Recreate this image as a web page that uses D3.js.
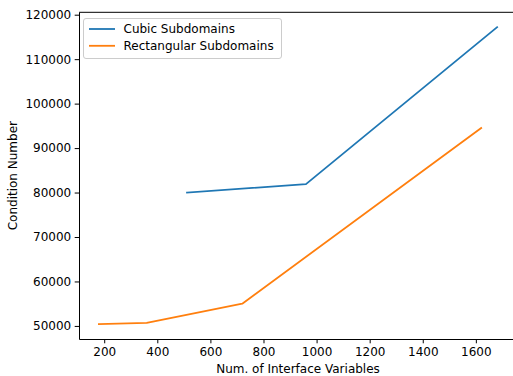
<!DOCTYPE html>
<html>
<head>
<meta charset="utf-8">
<script src="https://cdn.jsdelivr.net/npm/d3@7"></script>
<style>
  body { margin: 0; background: #fff; }
  text { font-family: "DejaVu Sans", sans-serif; }
</style>
</head>
<body>
<script>
var width = 513,
    height = 376;

// data
var cubicX = [512, 960, 1680];
var cubicY = [80000, 81900, 117200];
var rectX = [180, 360, 720, 1620];
var rectY = [50400, 50700, 55000, 94500];
var xTicks = [200, 400, 600, 800, 1000, 1200, 1400, 1600];
var yTicks = [50000, 60000, 70000, 80000, 90000, 100000, 110000, 120000];
var seriesNames = ['Cubic Subdomains', 'Rectangular Subdomains'];
var colors = ['#1f77b4', '#ff7f0e'];

var plotLeft = 79, plotTop = 12.3, plotRight = 517, plotBottom = 339;
var fontSize = '12px';

var svg = d3.select('body')
  .append('svg')
  .attr('width', width)
  .attr('height', height);

var x = d3.scaleLinear().domain([105, 1755]).range([plotLeft, plotRight]);
var y = d3.scaleLinear().domain([47060, 120540]).range([plotBottom, plotTop]);

var series = [
  cubicX.map(function(d, i) { return [d, cubicY[i]]; }),
  rectX.map(function(d, i) { return [d, rectY[i]]; })
];

var line = d3.line()
  .x(function(d) { return x(d[0]); })
  .y(function(d) { return y(d[1]); });

svg.selectAll('.series')
  .data(series)
  .enter()
  .append('path')
  .attr('class', 'series')
  .attr('d', line)
  .attr('fill', 'none')
  .attr('stroke', function(d, i) { return colors[i]; })
  .attr('stroke-width', 1.8)
  .attr('stroke-linejoin', 'round')
  .attr('stroke-linecap', 'square');

// axes
var xAxis = svg.append('g')
  .attr('transform', 'translate(0,' + plotBottom + ')')
  .call(d3.axisBottom(x).tickValues(xTicks).tickSize(4.3).tickPadding(4).tickSizeOuter(0).tickFormat(d3.format('d')));

var yAxis = svg.append('g')
  .attr('transform', 'translate(' + plotLeft + ',0)')
  .call(d3.axisLeft(y).tickValues(yTicks).tickSize(4.3).tickPadding(3.5).tickSizeOuter(0).tickFormat(d3.format('d')));

[xAxis, yAxis].forEach(function(a) {
  a.select('.domain').attr('stroke', '#000').attr('stroke-width', 1);
  a.selectAll('.tick line').attr('stroke', '#000').attr('stroke-width', 1);
  a.selectAll('.tick text').attr('fill', '#000').style('font-size', fontSize).style('font-family', '"DejaVu Sans", sans-serif');
});

// top spine
svg.append('line')
  .attr('x1', plotLeft).attr('x2', plotRight)
  .attr('y1', plotTop).attr('y2', plotTop)
  .attr('stroke', '#000').attr('stroke-width', 1);

// axis labels
svg.append('text')
  .attr('x', (plotLeft + plotRight) / 2)
  .attr('y', 373)
  .attr('text-anchor', 'middle')
  .style('font-size', fontSize)
  .text('Num. of Interface Variables');

svg.append('text')
  .attr('transform', 'translate(17,' + ((plotTop + plotBottom) / 2) + ') rotate(-90)')
  .attr('text-anchor', 'middle')
  .style('font-size', fontSize)
  .text('Condition Number');

// legend
var legend = svg.append('g').attr('transform', 'translate(83.5,18.5)');
legend.append('rect')
  .attr('width', 198)
  .attr('height', 40)
  .attr('rx', 2.5)
  .attr('fill', '#fff')
  .attr('fill-opacity', 0.8)
  .attr('stroke', '#ccc')
  .attr('stroke-width', 1);

var item = legend.selectAll('.item')
  .data(seriesNames)
  .enter()
  .append('g')
  .attr('class', 'item')
  .attr('transform', function(d, i) { return 'translate(0,' + (10.5 + i * 16.8) + ')'; });

item.append('line')
  .attr('x1', 5.5).attr('x2', 31.5)
  .attr('stroke', function(d, i) { return colors[i]; })
  .attr('stroke-width', 1.8);

item.append('text')
  .attr('x', 40)
  .attr('dy', '0.35em')
  .style('font-size', fontSize)
  .text(function(d) { return d; });
</script>
</body>
</html>
